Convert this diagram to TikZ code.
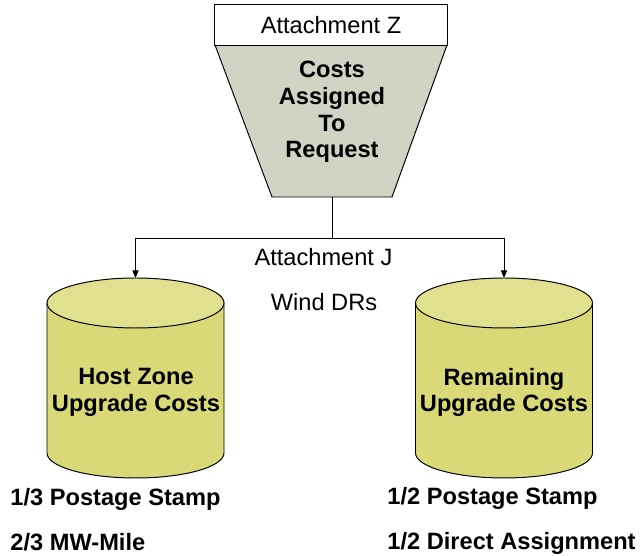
\documentclass[tikz,border=0pt]{standalone}
\usepackage{fontspec}
\setmainfont{Liberation Sans}
\usetikzlibrary{arrows.meta, positioning}

\definecolor{funnelfill}{RGB}{208,212,196}
\definecolor{cylbody}{RGB}{217,217,120}
\definecolor{cyltop}{RGB}{224,224,142}

\begin{document}
\begin{tikzpicture}[
    x=0.025cm, y=-0.025cm,
    box style/.style={rectangle, draw=black, fill=white, line width=0.7pt, minimum width=5.8cm, minimum height=1cm, inner sep=0pt},
    plain text/.style={font=\fontsize{16.8}{19}\selectfont, inner sep=0pt},
    bold text/.style={font=\fontsize{16.8}{19}\selectfont\bfseries, align=center, inner sep=0pt},
    every path/.style={line width=0.7pt, black},
    arrow/.style={-{Triangle[length=5.5pt, width=4.5pt]}},
]
    \useasboundingbox (0,0) rectangle (641,556);

    % funnel
    \filldraw[fill=funnelfill] (215,45) -- (447,45) -- (392,197) -- (272,197) -- cycle;
    \node[box style] (attz) at (331,25) {\fontsize{16.8}{19}\selectfont Attachment Z};
    \node[bold text] (request) at (332,112) {Costs\\Assigned\\To\\Request};

    % cylinders
    \foreach \cx in {135.5, 504} {
        \filldraw[fill=cylbody] (\cx-88.5,303) -- (\cx-88.5,453)
            arc[start angle=180, end angle=0, x radius=88.5, y radius=25]
            -- (\cx+88.5,303);
        \filldraw[fill=cyltop] (\cx,303) ellipse [x radius=88.5, y radius=25];
    }
    \coordinate (hostin) at (135.5,278);
    \coordinate (restin) at (504,278);
    \node[bold text] (host) at (136,392.5) {Host Zone\\Upgrade Costs};
    \node[bold text] (rest) at (504,392.5) {Remaining\\Upgrade Costs};

    % connectors
    \coordinate (funnelout) at (332,197);
    \coordinate (split) at (332,238);
    \draw (funnelout) -- (split);
    \draw[arrow] (split) -| (hostin);
    \draw[arrow] (split) -| (restin);

    \node[plain text] (attj) at (323.5,257.5) {Attachment J};
    \node[plain text] (wind) at (324,302) {Wind DRs};

    % allocation shares
    \node[bold text, anchor=base west] (hosta) at (10,506) {1/3 Postage Stamp};
    \node[bold text, anchor=base west] (hostb) at (10,551) {2/3 MW-Mile};
    \node[bold text, anchor=base west] (resta) at (387,505) {1/2 Postage Stamp};
    \node[bold text, anchor=base west] (restb) at (387,550) {1/2 Direct Assignment};

\end{tikzpicture}
\end{document}
